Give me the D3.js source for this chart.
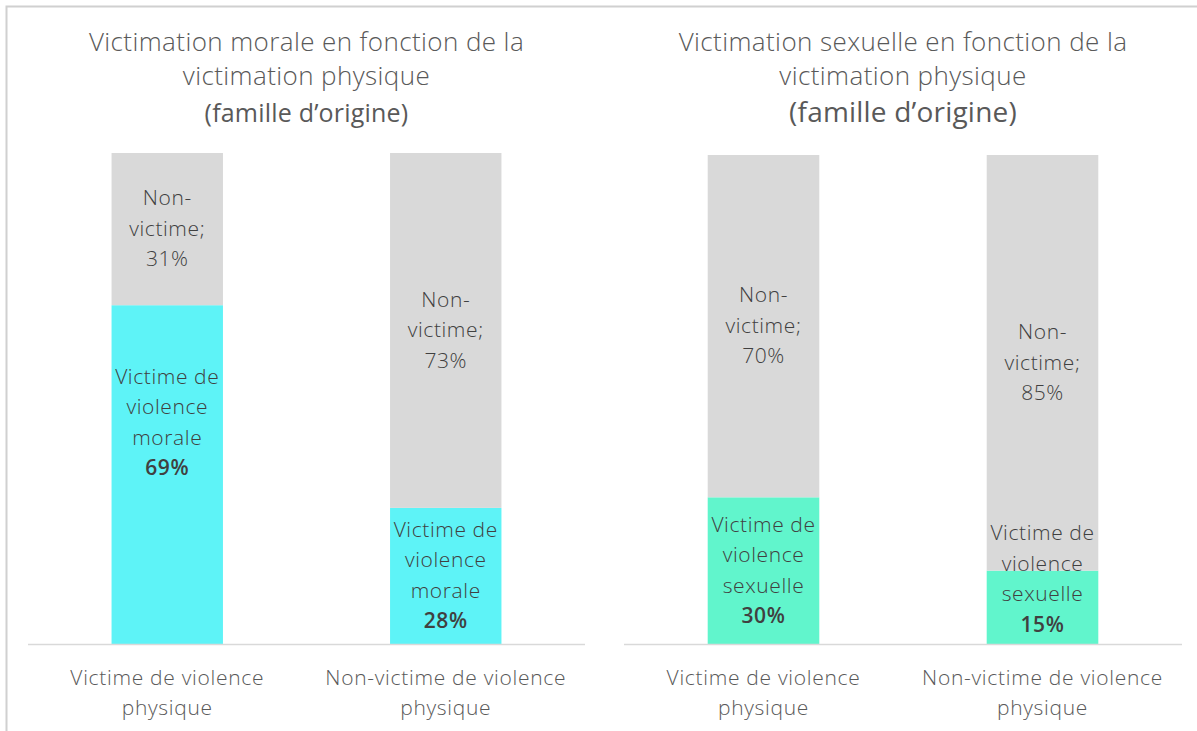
<!DOCTYPE html>
<html>
<head>
<meta charset="utf-8">
<script src="https://cdn.jsdelivr.net/npm/d3@7"></script>
<style>
  body { margin: 0; background: #fff; }
  svg text { font-family: "Open Sans", Lato, sans-serif; }
</style>
</head>
<body>
<svg id="chart" width="1197" height="731"></svg>
<script>
// categories on the x axis (same for both charts)
const categories = ["Victime de violence physique", "Non-victime de violence physique"];
const categoryLines = [["Victime de violence", "physique"], ["Non-victime de violence", "physique"]];

// chart 1 : victimation morale
const moraleTitle = ["Victimation morale en fonction de la", "victimation physique", "(famille d\u2019origine)"];
const moraleVictime = [69, 28];
const moraleNonVictime = [31, 73];

// chart 2 : victimation sexuelle
const sexuelleTitle = ["Victimation sexuelle en fonction de la", "victimation physique", "(famille d\u2019origine)"];
const sexuelleVictime = [30, 15];
const sexuelleNonVictime = [70, 85];

const svg = d3.select("#chart");

// outer frame
svg.append("rect")
    .attr("x", 6.5).attr("y", 6.5)
    .attr("width", 1300).attr("height", 900)
    .attr("fill", "none")
    .attr("stroke", "#d0d0d0")
    .attr("stroke-width", 2);

function draw_panel(opts) {
    let g = svg.append("g");

    let x = d3.scaleBand()
        .domain(categories)
        .range([opts.left, opts.right])
        .paddingInner(0.6)
        .paddingOuter(0.3);

    let y = d3.scaleLinear()
        .domain([0, 1])
        .range([644, opts.top]);

    let rows = categories.map(function (c, i) {
        return { cat: c, victime: opts.victime[i], non: opts.non[i], i: i };
    });

    let series = d3.stack()
        .keys(["victime", "non"])
        .offset(d3.stackOffsetExpand)(rows);

    let cx = (opts.left + opts.right) / 2;

    // title
    let title = g.append("text")
        .attr("text-anchor", "middle")
        .attr("fill", "#595959");
    opts.title.forEach(function (t, i) {
        title.append("tspan")
            .attr("x", cx)
            .attr("y", [51, 85, 122][i])
            .style("font-size", i < 2 ? "26px" : opts.subSize)
            .style("font-weight", i < 2 ? 300 : 400)
            .style("letter-spacing", i < 2 ? "0.4px" : "0.2px")
            .text(t);
    });

    // bars
    g.selectAll(".layer")
        .data(series)
        .enter().append("g")
        .attr("fill", function (d) { return d.key == "victime" ? opts.color : "#d9d9d9"; })
        .selectAll("rect")
        .data(function (d) { return d; })
        .enter().append("rect")
        .attr("x", function (d) { return x(d.data.cat); })
        .attr("width", x.bandwidth())
        .attr("y", function (d) { return y(d[1]); })
        .attr("height", function (d) { return y(d[0]) - y(d[1]); });

    // axis line
    g.append("line")
        .attr("x1", opts.left).attr("x2", opts.right)
        .attr("y1", 644.5).attr("y2", 644.5)
        .attr("stroke", "#d9d9d9")
        .attr("stroke-width", 1.5);

    // category labels
    categoryLines.forEach(function (lines, i) {
        let t = g.append("text")
            .attr("text-anchor", "middle")
            .attr("fill", "#595959")
            .style("font-size", "21px")
            .style("font-weight", 300)
            .style("letter-spacing", "0.7px");
        lines.forEach(function (l, j) {
            t.append("tspan")
                .attr("x", x(categories[i]) + x.bandwidth() / 2)
                .attr("y", 685 + j * 30)
                .text(l);
        });
    });

    // data labels
    let lh = 30.5;
    series.forEach(function (s) {
        s.forEach(function (d) {
            let lines, boldLast;
            if (s.key == "victime") {
                lines = ["Victime de", "violence", opts.word, d.data.victime + "%"];
                boldLast = true;
            } else {
                lines = ["Non-", "victime;", d.data.non + "%"];
                boldLast = false;
            }
            let mid = (y(d[0]) + y(d[1])) / 2 + (opts.nudge[s.key + d.data.i] || 0);
            let blockH = lines.length * lh;
            let top = mid - blockH / 2;
            if (top + blockH > 640) top = 640 - blockH;
            let t = g.append("text")
                .attr("text-anchor", "middle")
                .attr("fill", "#404040")
                .style("font-size", "21px")
                .style("letter-spacing", "0.6px");
            lines.forEach(function (l, j) {
                t.append("tspan")
                    .attr("x", x(d.data.cat) + x.bandwidth() / 2)
                    .attr("y", top + j * lh + 22)
                    .style("font-weight", boldLast && j == lines.length - 1 ? 600 : 300)
                    .text(l);
            });
        });
    });
}

draw_panel({
    left: 28, right: 585, top: 153,
    title: moraleTitle, subSize: "25px",
    victime: moraleVictime, non: moraleNonVictime,
    color: "#5ef3f7", word: "morale",
    nudge: { victime0: -52 }
});

draw_panel({
    left: 624, right: 1182, top: 155,
    title: sexuelleTitle, subSize: "28px",
    victime: sexuelleVictime, non: sexuelleNonVictime,
    color: "#61f5cc", word: "sexuelle",
    nudge: {}
});
</script>
</body>
</html>
